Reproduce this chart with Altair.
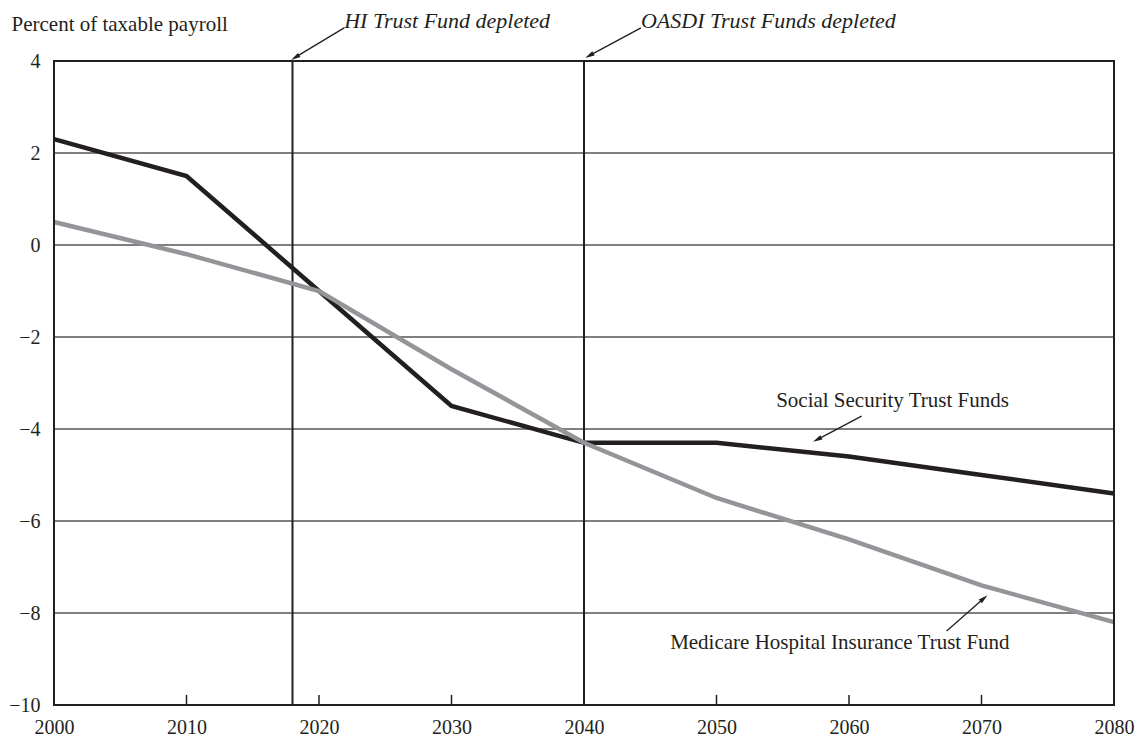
import altair as alt
import pandas as pd

# ---- data ----
years = [2000, 2010, 2020, 2030, 2040, 2050, 2060, 2070, 2080]
oasdi = [2.3, 1.5, -1.0, -3.5, -4.3, -4.3, -4.6, -5.0, -5.4]
hi = [0.5, -0.2, -1.0, -2.7, -4.3, -5.5, -6.4, -7.4, -8.2]

depletion_years = [2018, 2040]
grid_values = [-8, -6, -4, -2, 0, 2]
x_ticks = [2010, 2020, 2030, 2040, 2050, 2060, 2070]

# annotations: text, x (year), y (value), italic
ann_text = ["HI Trust Fund depleted", "OASDI Trust Funds depleted",
            "Social Security Trust Funds", "Medicare Hospital Insurance Trust Fund"]
ann_x = [2021.9, 2044.3, 2054.5, 2046.5]
ann_y = [4.87, 4.87, -3.39, -8.65]
ann_style = ["italic", "italic", "normal", "normal"]

# arrows: tail (x, y) -> head (x, y), head angle
arr_x = [2021.9, 2044.3, 2060.95, 2067.37]
arr_y = [4.72, 4.72, -3.72, -8.39]
arr_x2 = [2018.2, 2040.4, 2057.6, 2070.18]
arr_y2 = [4.078, 4.117, -4.23, -7.68]
arr_angle = [238, 241, 242, 49]

FONT = "Liberation Serif"
INK = "#231f20"

df = pd.DataFrame({
    "year": years * 2,
    "value": oasdi + hi,
    "series": ["OASDI"] * len(years) + ["HI"] * len(years),
})

xs = alt.Scale(domain=[2000, 2080], nice=False, zero=False)
ys = alt.Scale(domain=[-10, 4], nice=False, zero=False)

x_axis = alt.Axis(values=years, format="d", grid=False, ticks=False, domain=False,
                  labelFont=FONT, labelFontSize=20, labelColor=INK, labelPadding=12,
                  labelFlush=False, title=None)
y_axis = alt.Axis(values=[-10, -8, -6, -4, -2, 0, 2, 4], grid=False, ticks=False, domain=False,
                  labelFont=FONT, labelFontSize=20, labelColor=INK, labelPadding=14,
                  title="Percent of taxable payroll", titleAngle=0, titleAlign="left",
                  titleBaseline="middle", titleX=-43, titleY=-37, titleFont=FONT,
                  titleFontSize=21, titleFontWeight="normal", titleColor=INK)

grid = alt.Chart(pd.DataFrame({"g": grid_values})).mark_rule(
    color="#555555", strokeWidth=1.5).encode(
    y=alt.Y("g:Q", scale=ys, axis=y_axis))

base_x = alt.Chart(pd.DataFrame({"t": x_ticks})).mark_rule(
    color=INK, strokeWidth=1.5).encode(
    x=alt.X("t:Q", scale=xs, axis=x_axis),
    y=alt.datum(-10), y2=alt.datum(-9.78))

vlines = alt.Chart(pd.DataFrame({"d": depletion_years})).mark_rule(
    color=INK, strokeWidth=2).encode(x=alt.X("d:Q", scale=xs))

lines = alt.Chart(df).mark_line(strokeWidth=4.5, strokeCap="butt").encode(
    x=alt.X("year:Q", scale=xs),
    y=alt.Y("value:Q", scale=ys),
    color=alt.Color("series:N", scale=alt.Scale(domain=["HI", "OASDI"],
                                                range=["#939598", INK]), legend=None),
    order=alt.Order("year:Q"),
)

frame = alt.Chart(pd.DataFrame({"a": [2000], "b": [2080], "c": [-10], "d": [4]})).mark_rect(
    fill=None, stroke=INK, strokeWidth=2).encode(
    x=alt.X("a:Q", scale=xs), x2="b:Q", y=alt.Y("c:Q", scale=ys), y2="d:Q")

ann_df = pd.DataFrame({"text": ann_text, "x": ann_x, "y": ann_y, "style": ann_style})
ann_italic = alt.Chart(ann_df[ann_df["style"] == "italic"]).mark_text(
    font=FONT, fontSize=22, fontStyle="italic", align="left", baseline="middle", color=INK
).encode(x=alt.X("x:Q", scale=xs), y=alt.Y("y:Q", scale=ys), text="text:N")
ann_normal = alt.Chart(ann_df[ann_df["style"] == "normal"]).mark_text(
    font=FONT, fontSize=21, align="left", baseline="middle", color=INK
).encode(x=alt.X("x:Q", scale=xs), y=alt.Y("y:Q", scale=ys), text="text:N")

arr_df = pd.DataFrame({"x": arr_x, "y": arr_y, "x2": arr_x2, "y2": arr_y2, "angle": arr_angle})
arr_lines = alt.Chart(arr_df).mark_rule(color=INK, strokeWidth=1.3).encode(
    x=alt.X("x:Q", scale=xs), y=alt.Y("y:Q", scale=ys), x2="x2:Q", y2="y2:Q")
arr_heads = alt.Chart(arr_df).mark_point(shape="M-0.5,1L0,-1L0.5,1Z", filled=True, opacity=1,
                                         color=INK, size=90).encode(
    x=alt.X("x2:Q", scale=xs), y=alt.Y("y2:Q", scale=ys),
    angle=alt.Angle("angle:Q", scale=None))

chart = alt.layer(grid, base_x, vlines, lines, frame, ann_italic, ann_normal,
                  arr_lines, arr_heads).properties(
    width=1060, height=644,
    autosize=alt.AutoSizeParams(type="none"),
    padding={"left": 46, "top": 53, "right": 22, "bottom": 35},
).configure_view(stroke=None)

chart.save("out.html", embed_options={"renderer": "svg", "actions": False})
